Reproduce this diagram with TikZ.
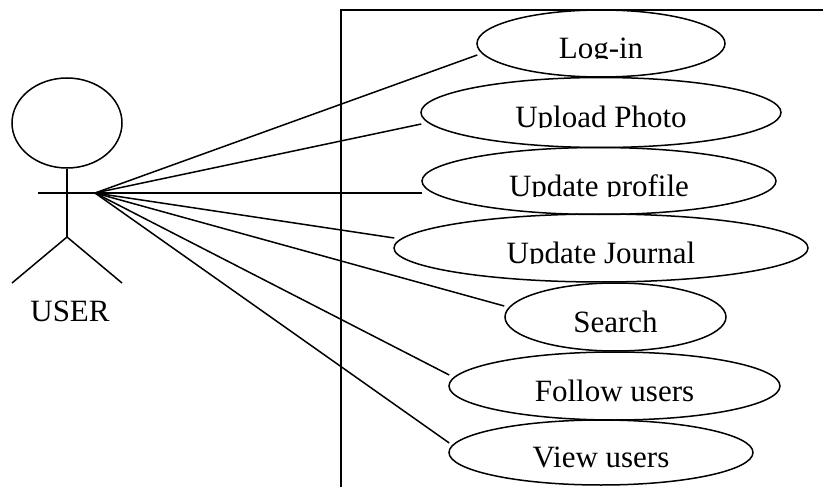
\documentclass[tikz,border=0pt]{standalone}
\usepackage{fontspec}
\setmainfont{Liberation Serif}
\usetikzlibrary{shapes.geometric,calc}

% Label of a use case: set on a baseline below the centre, descenders cut off
\newcommand\usecaselabel[3]{%
  \begin{scope}
    \clip ($(#1.center)+(-220,-40)$) rectangle ($(#1.center)+(220,15)$);
    \node[lbl] (#2) at ($(#1.center)+(0,15)$) {#3};
  \end{scope}}

\begin{document}
\begin{tikzpicture}[x=1pt,y=-1pt,line width=1.5pt,
  usecase/.style={draw, ellipse, inner sep=0pt},
  lbl/.style={anchor=base, inner sep=0pt, font=\fontsize{31}{36}\selectfont},
  assoc/.style={draw}]
\useasboundingbox (0,0) rectangle (823,487);

% system boundary
\coordinate (bl) at (341,487);
\coordinate (tl) at (341,10);
\coordinate (tr) at (823,10);
\draw (bl) -- (tl) -- (tr);

% actor
\node[draw, ellipse, minimum width=110pt, minimum height=90pt, inner sep=0pt] (head) at (67,123) {};
\coordinate (hip) at (67,237);
\coordinate (lhand) at (38,193);
\coordinate (hand) at (95,193);
\coordinate (lfoot) at (12,283);
\coordinate (rfoot) at (122,283);
\draw (head.south) -- (hip);
\draw (lhand) -- (hand);
\draw (lfoot) -- (hip) -- (rfoot);
\node[lbl] (actorname) at (70,321) {USER};

% use cases
\node[usecase, minimum width=248pt, minimum height=67pt] (login)   at (601,43.5) {};
\node[usecase, minimum width=360pt, minimum height=70pt] (upload)  at (601,112.5) {};
\node[usecase, minimum width=354pt, minimum height=67pt] (profile) at (599,181) {};
\node[usecase, minimum width=414pt, minimum height=68pt] (journal) at (601,248) {};
\node[usecase, minimum width=221pt, minimum height=68pt] (search)  at (615.5,317) {};
\node[usecase, minimum width=331pt, minimum height=68pt] (follow)  at (614.5,386) {};
\node[usecase, minimum width=304pt, minimum height=65pt] (view)    at (601,452.5) {};

\usecaselabel{login}{login-t}{Log-in}
\usecaselabel{upload}{upload-t}{Upload Photo}
\usecaselabel{profile}{profile-t}{Update profile}
\usecaselabel{journal}{journal-t}{Update Journal}
\usecaselabel{search}{search-t}{Search}
\usecaselabel{follow}{follow-t}{Follow users}
\usecaselabel{view}{view-t}{View users}

% associations
\draw[assoc] (hand) -- ([xshift=1pt,yshift=-11.5pt]login.west);
\draw[assoc] (hand) -- ([xshift=1pt,yshift=-11.5pt]upload.west);
\draw[assoc] (hand) -- ([xshift=1pt,yshift=-12pt]profile.west);
\draw[assoc] (hand) -- ([xshift=1pt,yshift=10pt]journal.west);
\draw[assoc] (hand) -- ([yshift=11pt]search.west);
\draw[assoc] (hand) -- ([xshift=1pt,yshift=11pt]follow.west);
\draw[assoc] (hand) -- ([xshift=1pt,yshift=9.5pt]view.west);
\end{tikzpicture}
\end{document}
